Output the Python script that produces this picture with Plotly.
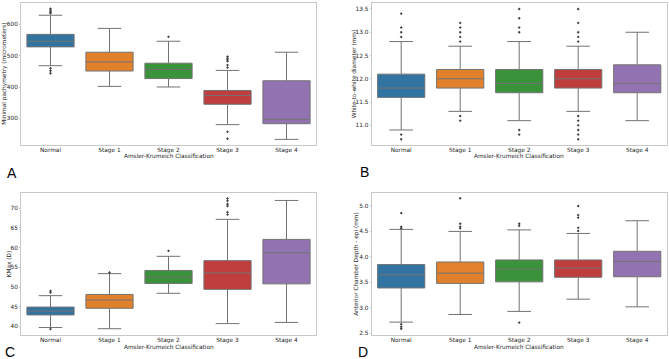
import plotly.graph_objects as go

categories = ["Normal", "Stage 1", "Stage 2", "Stage 3", "Stage 4"]
colors = ["#3274a1", "#e1812c", "#3a923a", "#c03d3e", "#9372b2"]
x_title = "Amsler-Krumeich Classification"

# Panel A: Minimal pachymetry
a_low = [468, 402, 400, 280, 233]
a_q1 = [528, 451, 427, 345, 283]
a_med = [546, 480, 456, 373, 297]
a_q3 = [568, 511, 476, 389, 420]
a_high = [629, 587, 546, 453, 511]
a_out = [[650, 646, 642, 638, 635, 460, 452, 444], [], [560],
         [497, 492, 487, 482, 470, 462, 257, 235], []]

# Panel B: White-to-white diameter
b_low = [10.9, 11.3, 11.1, 11.3, 11.1]
b_q1 = [11.6, 11.8, 11.7, 11.8, 11.7]
b_med = [11.8, 12.0, 11.9, 12.0, 11.9]
b_q3 = [12.1, 12.2, 12.2, 12.2, 12.3]
b_high = [12.8, 12.7, 12.8, 12.7, 13.0]
b_out = [[13.4, 13.1, 13.0, 12.9, 10.8, 10.7],
         [13.2, 13.1, 13.0, 12.9, 12.8, 11.2, 11.1],
         [13.5, 13.3, 13.1, 13.0, 10.9, 10.8],
         [13.5, 13.2, 13.0, 12.9, 12.8, 11.2, 11.1, 11.0, 10.9, 10.8, 10.7],
         []]

# Panel C: KMax
c_low = [39.7, 39.4, 48.4, 40.7, 41.0]
c_q1 = [42.9, 44.6, 50.9, 49.4, 50.8]
c_med = [43.9, 46.7, 52.5, 53.6, 58.7]
c_q3 = [44.9, 48.1, 54.2, 56.7, 62.1]
c_high = [47.8, 53.4, 57.8, 67.2, 72.0]
c_out = [[49.0, 48.6, 39.3], [53.7], [59.2],
         [72.5, 71.9, 71.1, 70.6, 69.0, 68.4], []]

# Panel D: Anterior chamber depth
d_low = [2.72, 2.87, 2.93, 3.17, 3.02]
d_q1 = [3.39, 3.48, 3.51, 3.60, 3.61]
d_med = [3.65, 3.68, 3.76, 3.78, 3.91]
d_q3 = [3.85, 3.90, 3.94, 3.94, 4.11]
d_high = [4.54, 4.50, 4.53, 4.46, 4.71]
d_out = [[4.86, 4.59, 4.56, 2.68, 2.63, 2.59],
         [5.15, 4.65, 4.59, 4.56],
         [4.65, 4.61, 2.71],
         [5.0, 4.82, 4.77, 4.57, 4.51],
         []]

panels = [
    ("A", a_low, a_q1, a_med, a_q3, a_high, a_out, "Minimal pachymetry (micrometers)", [215, 669], [300, 400, 500, 600], None),
    ("B", b_low, b_q1, b_med, b_q3, b_high, b_out, "White-to-white diameter (mm)", [10.577, 13.635], [11.0, 11.5, 12.0, 12.5, 13.0, 13.5], ".1f"),
    ("C", c_low, c_q1, c_med, c_q3, c_high, c_out, "KMax (D)", [37.8, 73.97], [40, 45, 50, 55, 60, 65, 70], None),
    ("D", d_low, d_q1, d_med, d_q3, d_high, d_out, "Anterior Chamber Depth - epi (mm)", [2.467, 5.26], [2.5, 3.0, 3.5, 4.0, 4.5, 5.0], ".1f"),
]

W, H = 669, 359
# pixel geometry of each axes box: left, right, top, bottom
geom = {
    "A": (21, 316, 2.7, 145),
    "B": (371.7, 666.7, 2.7, 145),
    "C": (21, 316, 192.7, 335),
    "D": (371.7, 666.7, 192.7, 335),
}
label_pos = {"A": (12, 173), "B": (365, 172), "C": (10, 352), "D": (363, 352)}
ytitle_x = {"A": 5, "B": 353.5, "C": 8.5, "D": 357}
xtitle_y = {"A": 156.3, "B": 156.3, "C": 346.8, "D": 346.8}

fig = go.Figure()
FS = 5.8
font_tick = dict(family="DejaVu Sans", size=FS, color="#262626")
font_title = dict(family="DejaVu Sans", size=FS, color="#262626")
line_col = "#737373"
layout = {}
annotations = []

for idx, (lab, lo, q1, med, q3, hi, outs, ytitle, yr, yt, fmt) in enumerate(panels):
    n = idx + 1
    xa = "x" if n == 1 else f"x{n}"
    ya = "y" if n == 1 else f"y{n}"
    for i, cat in enumerate(categories):
        fig.add_trace(go.Box(
            x=[i], q1=[q1[i]], median=[med[i]], q3=[q3[i]],
            lowerfence=[lo[i]], upperfence=[hi[i]],
            fillcolor=colors[i], line=dict(color=line_col, width=1),
            width=0.8, whiskerwidth=0.5, boxpoints=False,
            xaxis=xa, yaxis=ya, showlegend=False, name=cat,
        ))
        if outs[i]:
            fig.add_trace(go.Scatter(
                x=[i] * len(outs[i]), y=outs[i], mode="markers",
                marker=dict(symbol="diamond", size=2.2, color="#3f3f3f"),
                xaxis=xa, yaxis=ya, showlegend=False, hoverinfo="y",
            ))
    l, r, t, b = geom[lab]
    xkey = "xaxis" if n == 1 else f"xaxis{n}"
    ykey = "yaxis" if n == 1 else f"yaxis{n}"
    layout[xkey] = dict(
        domain=[l / W, r / W], anchor=ya, range=[-0.5, 4.5],
        tickvals=list(range(5)), ticktext=categories, tickfont=font_tick,
        showline=True, mirror=True, linecolor="#c8c8c8", linewidth=1,
        ticks="", ticklabelstandoff=-1,
        showgrid=False, zeroline=False, automargin=False,
    )
    ydict = dict(
        domain=[1 - b / H, 1 - t / H], anchor=xa, range=yr,
        tickvals=yt, tickfont=font_tick,
        showline=True, mirror=True, linecolor="#c8c8c8", linewidth=1,
        ticks="outside", ticklen=1, tickcolor="#c8c8c8",
        showgrid=False, zeroline=False, automargin=False,
    )
    if fmt:
        ydict["tickformat"] = fmt
    layout[ykey] = ydict
    # axis titles
    annotations.append(dict(
        text=x_title, x=(l + r) / 2 / W, y=1 - xtitle_y[lab] / H,
        xref="paper", yref="paper", showarrow=False,
        xanchor="center", yanchor="middle", font=font_title,
    ))
    annotations.append(dict(
        text=ytitle, x=ytitle_x[lab] / W, y=1 - (t + b) / 2 / H,
        xref="paper", yref="paper", showarrow=False, textangle=-90,
        xanchor="center", yanchor="middle", font=font_title,
    ))
    lx, ly = label_pos[lab]
    annotations.append(dict(
        text=lab, x=lx / W, y=1 - ly / H, xref="paper", yref="paper",
        showarrow=False, xanchor="center", yanchor="middle",
        font=dict(family="Liberation Sans", size=14, color="#000000"),
    ))

fig.update_layout(
    width=W, height=H, margin=dict(l=0, r=0, t=0, b=0),
    paper_bgcolor="white", plot_bgcolor="white",
    boxmode="overlay", annotations=annotations, **layout,
)

fig.write_html(
    "out.html",
    config={"displayModeBar": False},
    post_script="document.body.style.margin='0';document.body.style.padding='0';document.body.style.overflow='hidden';",
)
